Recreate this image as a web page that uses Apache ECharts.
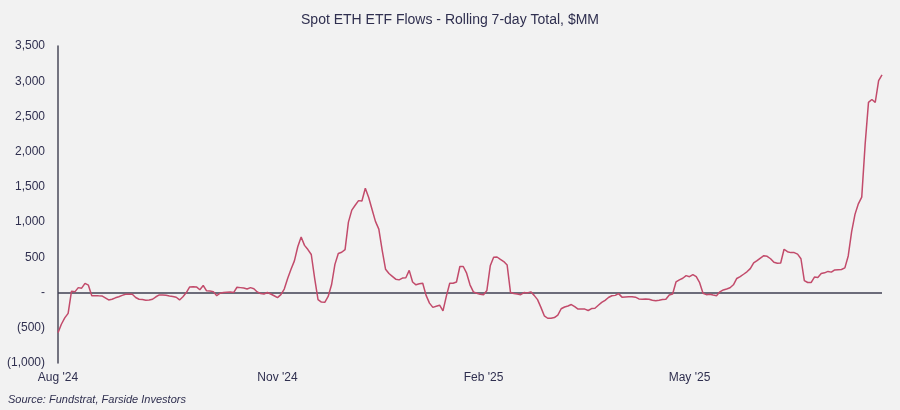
<!DOCTYPE html>
<html>
<head>
<meta charset="utf-8">
<script src="https://cdn.jsdelivr.net/npm/echarts@6/dist/echarts.min.js"></script>
<style>
html,body{margin:0;padding:0;background:#f2f2f2;}
#chart{width:900px;height:410px;}
</style>
</head>
<body>
<div id="chart"></div>
<script>
// Rolling 7-day total of spot ETH ETF flows, $MM, one value per trading day from 1 Aug 2024
const flows = [
 -569,-450,-360,-295,20,10,70,62,130,105,
 -44,-45,-47,-48,-75,-105,-95,-75,-60,-40,
 -24,-24,-25,-70,-95,-100,-108,-105,-95,-60,
 -34,-34,-38,-48,-56,-67,-105,-60,0,80,
 84,80,40,100,25,23,13,-44,-10,0,
 5,9,0,75,70,65,50,70,55,9,
 -15,-20,0,-20,-45,-72,-30,50,200,330,
 450,650,790,670,610,540,200,-100,-135,-138,
 -55,110,400,555,572,610,1000,1170,1240,1305,
 1300,1480,1350,1180,1010,900,600,330,270,230,
 190,180,205,210,315,150,110,125,132,-40,
 -150,-210,-195,-180,-260,-50,132,132,150,370,
 370,275,110,10,-10,-25,-30,30,380,500,
 505,470,440,390,0,-12,-20,-30,0,-5,
 10,-40,-100,-210,-330,-365,-365,-355,-320,-230,
 -205,-190,-170,-200,-235,-235,-235,-255,-228,-222,
 -180,-140,-110,-70,-45,-40,-15,-65,-62,-60,
 -58,-65,-90,-95,-92,-95,-110,-115,-108,-100,
 -95,-34,-20,150,180,203,240,225,255,225,
 140,-10,-30,-25,-35,-44,10,37,50,68,
 110,200,226,260,295,340,420,453,490,524,
 515,480,430,415,420,615,580,567,567,545,
 480,170,143,141,220,215,269,280,300,290,
 321,325,328,350,520,860,1110,1260,1355,2100,
 2700,2740,2700,3010,3090
];
const startDate = '2024-08-01';
const holidays = ['2024-09-02','2024-11-28','2024-12-25','2025-01-01','2025-01-09','2025-01-20',
  '2025-02-17','2025-04-18','2025-05-26','2025-06-19','2025-07-04'];
const labelMonths = [7, 10, 1, 4]; // Aug, Nov, Feb, May
const monthNames = ['Jan','Feb','Mar','Apr','May','Jun','Jul','Aug','Sep','Oct','Nov','Dec'];
const yTicks = { min: -1000, max: 3500, step: 500 };

// trading-day categories
const dates = [];
{
  const d = new Date(startDate + 'T00:00:00Z');
  while (dates.length < flows.length) {
    const iso = d.toISOString().slice(0,10);
    const wd = d.getUTCDay();
    if (wd !== 0 && wd !== 6 && holidays.indexOf(iso) < 0) dates.push(iso);
    d.setUTCDate(d.getUTCDate() + 1);
  }
}
function isLabelDay(idx) {
  const m = +dates[idx].slice(5,7) - 1;
  if (labelMonths.indexOf(m) < 0) return false;
  return idx === 0 || dates[idx-1].slice(5,7) !== dates[idx].slice(5,7);
}
function fmtDate(s) {
  return monthNames[+s.slice(5,7)-1] + " '" + s.slice(2,4);
}
function fmtNum(v) {
  if (v === 0) return '-';
  const s = Math.abs(v).toLocaleString('en-US');
  return v < 0 ? '(' + s + ')' : s;
}

const textColor = '#2f2f4f';
const chart = echarts.init(document.getElementById('chart'), null, {renderer:'canvas'});
chart.setOption({
  backgroundColor: '#f2f2f2',
  animation: false,
  title: {
    text: 'Spot ETH ETF Flows - Rolling 7-day Total, $MM',
    left: 'center', top: 8,
    textStyle: { fontFamily: 'Liberation Sans, Arial', fontSize: 14, fontWeight: 'normal', color: textColor }
  },
  grid: { left: 58, right: 18, top: 46, bottom: 47 },
  xAxis: {
    type: 'category',
    data: dates,
    boundaryGap: false,
    axisLine: { show: false },
    axisTick: { show: false },
    axisLabel: {
      interval: (idx) => isLabelDay(idx),
      formatter: (v) => fmtDate(v),
      color: textColor, fontSize: 12, fontFamily: 'Liberation Sans, Arial', margin: 9
    },
    splitLine: { show: false }
  },
  yAxis: {
    type: 'value',
    min: yTicks.min, max: yTicks.max, interval: yTicks.step,
    axisLine: { show: true, onZero: false, lineStyle: { color: '#4a4a5a', width: 1.5 } },
    axisTick: { show: false },
    splitLine: { show: false },
    axisLabel: {
      formatter: fmtNum,
      color: textColor, fontSize: 12, fontFamily: 'Liberation Sans, Arial', margin: 13
    }
  },
  series: [{
    type: 'line',
    data: flows,
    showSymbol: false,
    symbol: 'none',
    lineStyle: { color: '#c24b6b', width: 1.5 },
    z: 3,
    markLine: {
      silent: true,
      symbol: 'none',
      label: { show: false },
      lineStyle: { color: '#3f3f52', width: 1.5, type: 'solid' },
      data: [{ yAxis: 0 }],
      z: 2
    }
  }],
  graphic: [{
    type: 'text',
    left: 8, top: 394,
    style: {
      text: 'Source: Fundstrat, Farside Investors',
      fill: textColor,
      font: 'italic 11px "Liberation Sans", Arial'
    }
  }]
});
</script>
</body>
</html>
